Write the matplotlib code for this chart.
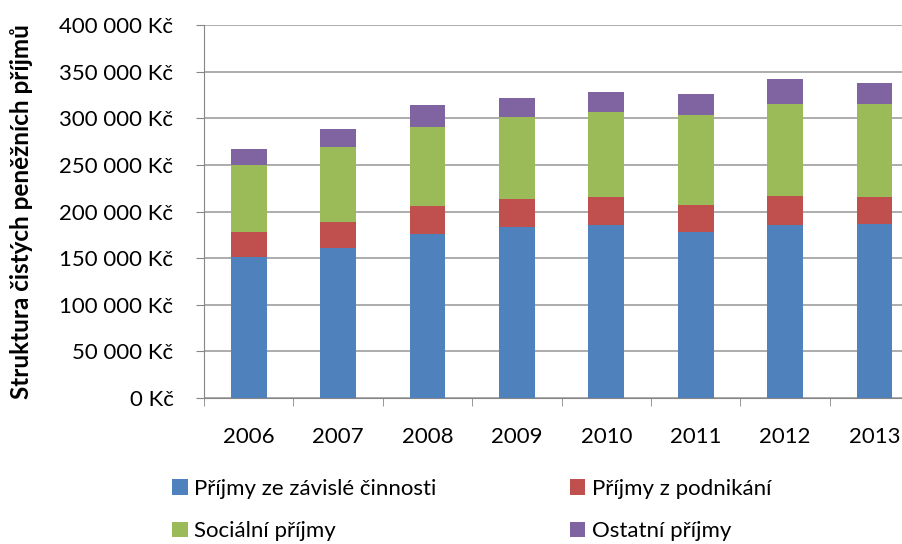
import numpy as np
import matplotlib.pyplot as plt
from matplotlib.ticker import FuncFormatter

plt.rcParams['font.family'] = ['Lato', 'DejaVu Sans']

years = ['2006', '2007', '2008', '2009', '2010', '2011', '2012', '2013']
zavisla = [151000, 161000, 176000, 183000, 185000, 178500, 185000, 187000]
podnikani = [26500, 27500, 30000, 30000, 30500, 29000, 32000, 29000]
socialni = [72500, 81000, 84500, 88000, 91000, 96500, 98500, 99000]
ostatni = [17000, 19000, 23500, 21000, 22000, 22000, 27000, 23000]

labels = ['Příjmy ze závislé činnosti', 'Příjmy z podnikání',
          'Sociální příjmy', 'Ostatní příjmy']
colors = ['#4f81bd', '#c0504d', '#9bbb59', '#8064a2']

fig = plt.figure(figsize=(9.03, 5.44), dpi=100)
W, H = 903, 544
step = 89.4
left, right = 204, 204 + 8 * step
top, bottom = 25, 398
ax = fig.add_axes([left / W, 1 - bottom / H, (right - left) / W, (bottom - top) / H])

x = np.arange(len(years))
base = np.zeros(len(years))
for vals, lab, col in zip([zavisla, podnikani, socialni, ostatni], labels, colors):
    ax.bar(x, vals, 0.4, bottom=base, color=col, label=lab, zorder=3)
    base += np.array(vals)

ax.set_xlim(-0.5, len(years) - 0.5)
ax.set_ylim(0, 400000)
ax.set_yticks(np.arange(0, 400001, 50000))
ax.yaxis.set_major_formatter(FuncFormatter(
    lambda v, p: f'{int(v):,}'.replace(',', ' ') + ' Kč'))
ax.set_xticks(x)
ax.set_xticklabels(years)
ax.set_xticks(np.arange(-0.5, len(years), 1), minor=True)
ax.tick_params(axis='x', which='major', length=0, pad=21, labelsize=16)
ax.tick_params(axis='x', which='minor', length=6, color='#868686')
ax.tick_params(axis='y', length=6, color='#868686', labelsize=16, pad=16)
ax.grid(axis='y', color='#a6a6a6', linewidth=1.3, zorder=0)
for s in ['top', 'right']:
    ax.spines[s].set_visible(False)
for s in ['left', 'bottom']:
    ax.spines[s].set_color('#868686')

fig.text(22 / W, 1 - 212 / H, 'Struktura čistých peněžních příjmů',
         rotation=90, ha='center', va='center', fontsize=17.5, fontweight='bold')

# legend filled row by row like the original
handles, labs = ax.get_legend_handles_labels()
order = [0, 2, 1, 3]
fig.legend([handles[i] for i in order], [labs[i] for i in order],
           ncol=2, loc='upper left',
           bbox_to_anchor=(152 / W, 1 - 459 / H), frameon=False,
           fontsize=16, handlelength=0.7, handleheight=0.7,
           handletextpad=0.3, columnspacing=6.0, labelspacing=1.0)

fig.savefig('out.png', dpi=100)
